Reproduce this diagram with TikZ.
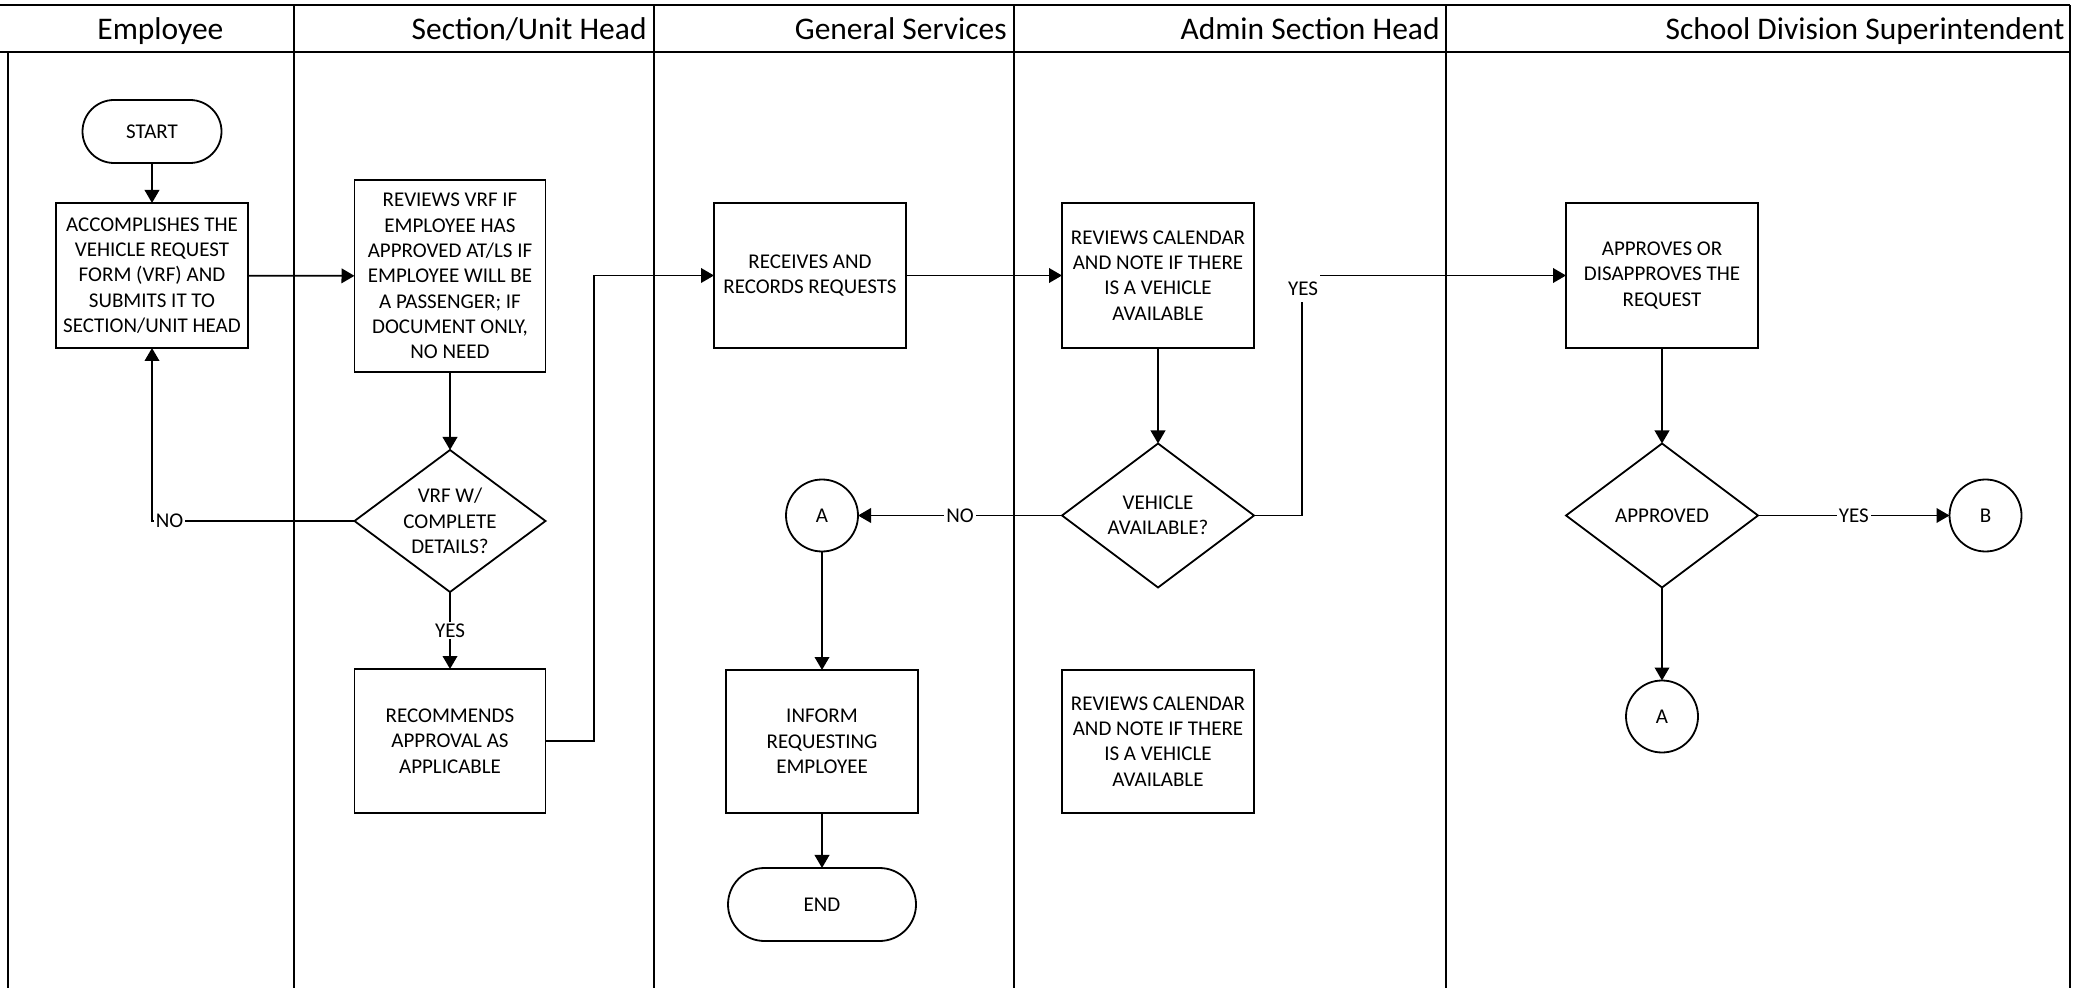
\documentclass[tikz,border=0pt]{standalone}
\usepackage{fontspec}
\setmainfont{Carlito}
\usetikzlibrary{arrows.meta,shapes.geometric,shapes.misc}

\begin{document}
\begin{tikzpicture}[x=0.5pt,y=-0.5pt]
  \tikzset{LaneStyle/.style = {
    draw          = black,
    line width    = 0.9pt
    }
  }
  \tikzset{HeaderStyle/.style = {
    inner sep     = 0pt,
    text          = black,
    font          = \fontsize{15.75}{19}\selectfont
    }
  }
  \tikzset{ProcessStyle/.style = {
    shape          = rectangle,
    draw           = black,
    fill           = white,
    line width     = 0.9pt,
    text           = black,
    align          = center,
    inner sep      = 1pt,
    outer sep      = 0pt,
    minimum width  = 96pt,
    minimum height = 72.5pt,
    font           = \fontsize{10.5}{12.65}\selectfont
    }
  }
  \tikzset{DecisionStyle/.style = {
    shape          = diamond,
    draw           = black,
    fill           = white,
    line width     = 0.9pt,
    text           = black,
    align          = center,
    aspect         = 1.35,
    inner sep      = 0pt,
    outer sep      = 0pt,
    minimum width  = 96pt,
    minimum height = 72pt,
    font           = \fontsize{10.5}{12.65}\selectfont
    }
  }
  \tikzset{TerminalStyle/.style = {
    shape          = rounded rectangle,
    draw           = black,
    fill           = white,
    line width     = 0.9pt,
    text           = black,
    inner sep      = 1pt,
    outer sep      = 0pt,
    font           = \fontsize{10.5}{12.65}\selectfont
    }
  }
  \tikzset{ConnectorStyle/.style = {
    shape          = circle,
    draw           = black,
    fill           = white,
    line width     = 0.9pt,
    text           = black,
    inner sep      = 0pt,
    outer sep      = 0pt,
    minimum size   = 36pt,
    font           = \fontsize{10.5}{12.65}\selectfont
    }
  }
  \tikzset{EdgeStyle/.style = {
    draw           = black,
    line width     = 0.9pt,
    -{Triangle[length=6.5pt,width=7.3pt]}
    }
  }
  \tikzset{EdgeLabelStyle/.style = {
    fill           = white,
    text           = black,
    inner sep      = 1pt,
    font           = \fontsize{10.5}{12.65}\selectfont
    }
  }

	\useasboundingbox (0,0) rectangle (2076,988);

	\draw[LaneStyle] (0,5) -- (2070,5);
	\draw[LaneStyle] (0,52) -- (2070,52);
	\draw[LaneStyle] (8,52) -- (8,988);
	\draw[LaneStyle] (294,5) -- (294,988);
	\draw[LaneStyle] (654,5) -- (654,988);
	\draw[LaneStyle] (1014,5) -- (1014,988);
	\draw[LaneStyle] (1446,5) -- (1446,988);
	\draw[LaneStyle] (2070,5) -- (2070,988);

	\node[HeaderStyle, anchor=base west](H1) at (97, 39.5) {Employee};
	\node[HeaderStyle, anchor=base east](H2) at (647, 39.5) {Section/Unit Head};
	\node[HeaderStyle, anchor=base east](H3) at (1007, 39.5) {General Services};
	\node[HeaderStyle, anchor=base east](H4) at (1440, 39.5) {Admin Section Head};
	\node[HeaderStyle, anchor=base east](H5) at (2065, 39.5) {School Division Superintendent};

	\node[TerminalStyle, minimum width=71.5pt, minimum height=31.5pt](Start) at (152, 131.5) {START};
	\node[ProcessStyle](Accomplish) at (152, 275.5) {ACCOMPLISHES THE\\VEHICLE REQUEST\\FORM (VRF) AND\\SUBMITS IT TO\\SECTION/UNIT HEAD};
	\node[ProcessStyle, minimum width=95.5pt, minimum height=96pt](ReviewVRF) at (450, 276) {REVIEWS VRF IF\\EMPLOYEE HAS\\APPROVED AT/LS IF\\EMPLOYEE WILL BE\\A PASSENGER; IF\\DOCUMENT ONLY,\\NO NEED};
	\node[DecisionStyle, minimum width=95.5pt, minimum height=71pt](Complete) at (450, 521) {VRF W/\\COMPLETE\\DETAILS?};
	\node[ProcessStyle, minimum width=95.5pt, minimum height=72pt](Recommend) at (450, 741) {RECOMMENDS\\APPROVAL AS\\APPLICABLE};
	\node[ProcessStyle](Receive) at (810, 275.5) {RECEIVES AND\\RECORDS REQUESTS};
	\node[ConnectorStyle](ConA1) at (822, 515.5) {A};
	\node[ProcessStyle, minimum height=71.5pt](Inform) at (822, 741.5) {INFORM\\REQUESTING\\EMPLOYEE};
	\node[TerminalStyle, minimum width=96pt, minimum height=36.5pt](End) at (822, 904.5) {END};
	\node[ProcessStyle](Calendar) at (1158, 275.5) {REVIEWS CALENDAR\\AND NOTE IF THERE\\IS A VEHICLE\\AVAILABLE};
	\node[DecisionStyle](Available) at (1158, 515.5) {VEHICLE\\AVAILABLE?};
	\node[ProcessStyle, minimum height=71.5pt](CalendarB) at (1158, 741.5) {REVIEWS CALENDAR\\AND NOTE IF THERE\\IS A VEHICLE\\AVAILABLE};
	\node[ProcessStyle](Approve) at (1662, 275.5) {APPROVES OR\\DISAPPROVES THE\\REQUEST};
	\node[DecisionStyle](Approved) at (1662, 515.5) {APPROVED};
	\node[ConnectorStyle](ConB) at (1985.5, 515.5) {B};
	\node[ConnectorStyle](ConA2) at (1662, 716.5) {A};

	\draw[EdgeStyle](Start) to (Accomplish);
	\draw[EdgeStyle](Accomplish) to (ReviewVRF);
	\draw[EdgeStyle](ReviewVRF) to (Complete);
	\draw[EdgeStyle](Complete.west) -| (Accomplish.south);
	\node[EdgeLabelStyle, anchor=west](LabNo1) at (153.5, 521) {NO};
	\draw[EdgeStyle](Complete.south) -- node[EdgeLabelStyle](LabYes1){YES} (Recommend.north);
	\draw[EdgeStyle](Recommend.east) -- ++(48.5,0) |- (Receive.west);
	\draw[EdgeStyle](Receive) to (Calendar);
	\draw[EdgeStyle](Calendar) to (Available);
	\draw[EdgeStyle](Available.west) -- node[EdgeLabelStyle](LabNo2){NO} (ConA1.east);
	\draw[EdgeStyle](Available.east) -- ++(48,0) |- (Approve.west);
	\node[EdgeLabelStyle, minimum height=14pt](LabYes2) at (1303, 288.5) {YES};
	\draw[EdgeStyle](ConA1) to (Inform);
	\draw[EdgeStyle](Inform) to (End);
	\draw[EdgeStyle](Approve) to (Approved);
	\draw[EdgeStyle](Approved.east) -- node[EdgeLabelStyle](LabYes3){YES} (ConB.west);
	\draw[EdgeStyle](Approved.south) -- (ConA2.north);

  \end{tikzpicture}
\end{document}
